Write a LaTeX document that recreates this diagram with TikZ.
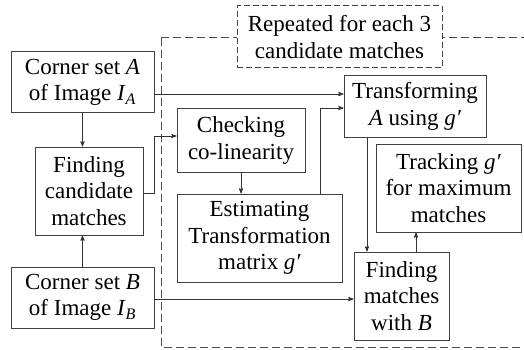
\documentclass[tikz,border=0pt]{standalone}
\usepackage{fontspec}
\setmainfont{Liberation Serif}[Ligatures=TeX]
\usetikzlibrary{arrows,positioning}

\newcommand{\IA}{\textit{I}\textsubscript{\textit{A}}}
\newcommand{\IB}{\textit{I}\textsubscript{\textit{B}}}
\newcommand{\gp}{\textit{g′}}

\begin{document}
\begin{tikzpicture}[x=1pt,y=-1pt,>=stealth',font=\rmfamily\fontsize{23}{26.5}\selectfont]
  \tikzset{box/.style={draw=black!75,line width=1pt,fill=white,align=center,inner sep=0pt},
           link/.style={->,draw=black!80,line width=0.9pt}}
  \useasboundingbox (0,0) rectangle (524,350);
  \clip (0,0) rectangle (524,350);
  % loop region
  \draw[black!70,line width=1pt,dash pattern=on 8pt off 4pt] (161,38) rectangle (540,347);
  \node[box,dash pattern=on 6pt off 3pt,minimum width=205pt,minimum height=62pt] (rep) at (339.5,37) {Repeated for each 3\\candidate matches};
  \node[box,minimum width=143pt,minimum height=61pt] (cA) at (82.5,82.5) {Corner set \textit{A}\\of Image \IA};
  \node[box,minimum width=108pt,minimum height=88pt] (fc) at (89,191) {Finding\\candidate\\matches};
  \node[box,minimum width=143pt,minimum height=61pt] (cB) at (82.5,297.5) {Corner set \textit{B}\\of Image \IB};
  \node[box,minimum width=128pt,minimum height=63pt] (chk) at (241,140.5) {Checking\\co-linearity};
  \node[box,minimum width=165pt,minimum height=88pt] (est) at (259.5,238) {Estimating\\Transformation\\matrix \gp};
  \node[box,minimum width=142pt,minimum height=61pt] (trf) at (415,106.5) {Transforming\\\textit{A} using \gp};
  \node[box,minimum width=145pt,minimum height=88pt] (trk) at (448.5,188) {Tracking \gp\\for maximum\\matches};
  \node[box,minimum width=95pt,minimum height=88pt] (fmB) at (401.5,296) {Finding\\matches\\with \textit{B}};
  % connectors
  \draw[link] (cA.south) -- (cA.south |- fc.north);
  \draw[link] (cB.north) -- (cB.north |- fc.south);
  \draw[link] ([yshift=-2pt]fc.east) -- ++(11,0) |- ([yshift=4.5pt]chk.west);
  \draw[link] ([yshift=-11.5pt]cA.east) -- ([yshift=-11.5pt]cA.east -| trf.west);
  \draw[link] (chk.south) -- (chk.south |- est.north);
  \draw[link] ([xshift=60.5pt]est.north) |- ([yshift=-1.5pt]trf.west);
  \draw[link] ([xshift=-48pt]trf.south) -- ([xshift=-48pt]trf.south |- fmB.north);
  \draw[link] ([xshift=14.5pt]fmB.north) -- ([xshift=14.5pt]fmB.north |- trk.south);
  \draw[link] ([yshift=-1.5pt]cB.east) -- ([yshift=-1.5pt]cB.east -| fmB.west);
\end{tikzpicture}
\end{document}
